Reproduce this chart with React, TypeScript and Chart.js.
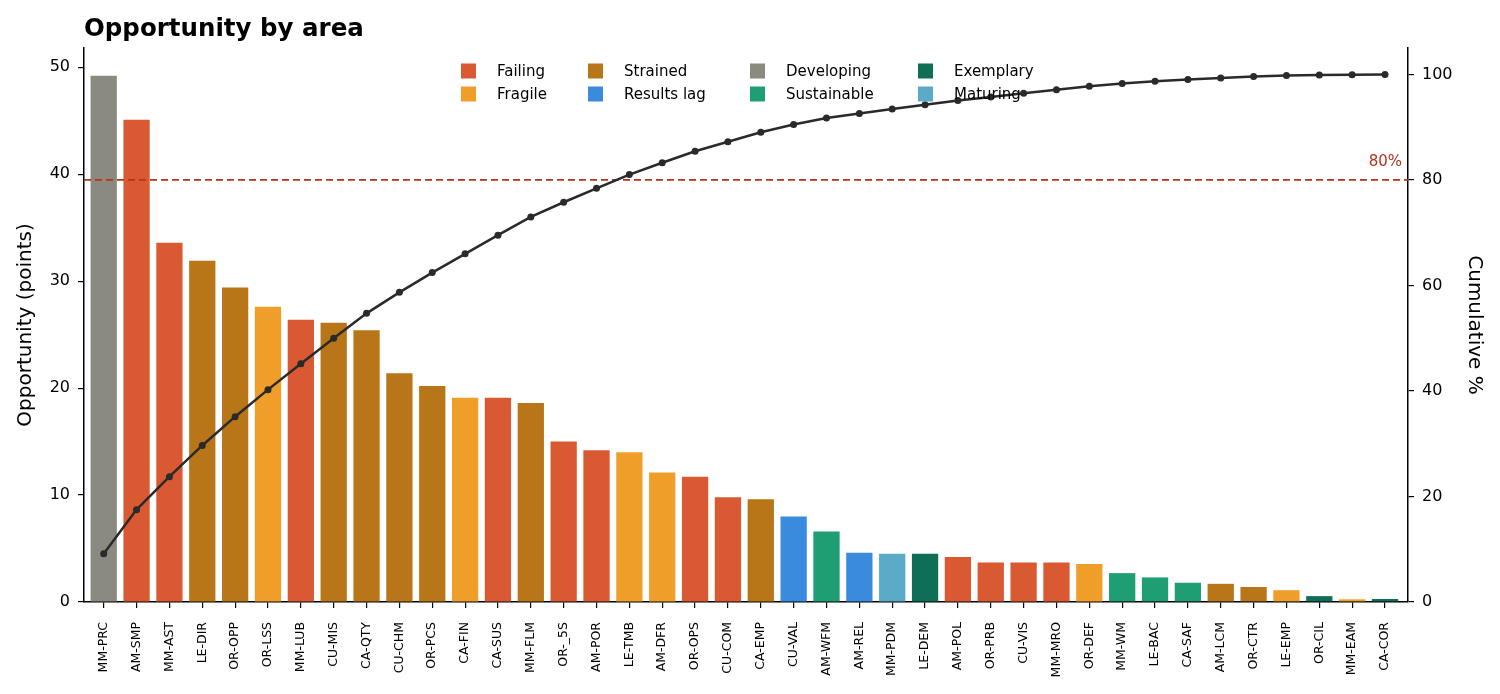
import React, { useEffect, useRef } from "react";
import { Chart, registerables } from "chart.js";

Chart.register(...registerables);

const categories = [
  "MM-PRC", "AM-SMP", "MM-AST", "LE-DIR", "OR-OPP", "OR-LSS", "MM-LUB", "CU-MIS", "CA-QTY", "CU-CHM",
  "OR-PCS", "CA-FIN", "CA-SUS", "MM-FLM", "OR-_5S", "AM-POR", "LE-TMB", "AM-DFR", "OR-OPS", "CU-COM",
  "CA-EMP", "CU-VAL", "AM-WFM", "AM-REL", "MM-PDM", "LE-DEM", "AM-POL", "OR-PRB", "CU-VIS", "MM-MRO",
  "OR-DEF", "MM-WM", "LE-BAC", "CA-SAF", "AM-LCM", "OR-CTR", "LE-EMP", "OR-CIL", "MM-EAM", "CA-COR",
];

const opportunity = [
  49.2, 45.1, 33.6, 31.9, 29.4, 27.6, 26.4, 26.1, 25.4, 21.4,
  20.2, 19.1, 19.1, 18.6, 15.0, 14.2, 14.0, 12.1, 11.7, 9.8,
  9.6, 8.0, 6.6, 4.6, 4.5, 4.5, 4.2, 3.7, 3.7, 3.7,
  3.55, 2.7, 2.3, 1.8, 1.7, 1.4, 1.1, 0.55, 0.25, 0.28,
];

const status = [
  "Developing", "Failing", "Failing", "Strained", "Strained", "Fragile", "Failing", "Strained", "Strained", "Strained",
  "Strained", "Fragile", "Failing", "Strained", "Failing", "Failing", "Fragile", "Fragile", "Failing", "Failing",
  "Strained", "Results lag", "Sustainable", "Results lag", "Maturing", "Exemplary", "Failing", "Failing", "Failing", "Failing",
  "Fragile", "Sustainable", "Sustainable", "Sustainable", "Strained", "Strained", "Fragile", "Exemplary", "Fragile", "Exemplary",
];

const legendOrder = ["Failing", "Fragile", "Strained", "Results lag", "Developing", "Sustainable", "Exemplary", "Maturing"];

const statusColors: Record<string, string> = {
  Failing: "#d95a32",
  Fragile: "#f09e2a",
  Strained: "#b87618",
  "Results lag": "#3a8ade",
  Developing: "#8a8a80",
  Sustainable: "#1f9e74",
  Exemplary: "#0f6e56",
  Maturing: "#5aaac8",
};

const leftTicks = [0, 10, 20, 30, 40, 50];
const rightTicks = [0, 20, 40, 60, 80, 100];
const threshold = 80;

const FONT = "'DejaVu Sans', sans-serif";

export default function App() {
  const ref = useRef<HTMLCanvasElement | null>(null);

  useEffect(() => {
    if (!ref.current) return;
    const total = opportunity.reduce((a, b) => a + b, 0);
    let run = 0;
    const cumulative = opportunity.map((v) => {
      run += v;
      return (run / total) * 100;
    });

    const overlay = {
      id: "overlay",
      afterDatasetDraw(chart: any, args: any) {
        if (args.index !== 1) return;
        const { ctx, chartArea } = chart;
        const y = chart.scales.y1.getPixelForValue(threshold);
        ctx.save();
        ctx.strokeStyle = "#b8321c";
        ctx.lineWidth = 1.6;
        ctx.setLineDash([7, 4]);
        ctx.beginPath();
        ctx.moveTo(chartArea.left, y);
        ctx.lineTo(chartArea.right, y);
        ctx.stroke();
        ctx.setLineDash([]);
        ctx.fillStyle = "#b8321c";
        ctx.font = `15px ${FONT}`;
        ctx.textAlign = "right";
        ctx.textBaseline = "alphabetic";
        ctx.fillText(`${threshold}%`, chartArea.right - 6, y - 14);
        ctx.restore();
      },
      afterDraw(chart: any) {
        const { ctx, chartArea } = chart;
        ctx.save();
        ctx.fillStyle = "#000";
        ctx.font = `bold 24.5px ${FONT}`;
        ctx.textAlign = "left";
        ctx.textBaseline = "alphabetic";
        ctx.fillText("Opportunity by area", chartArea.left, 36);
        const colX = [377, 504, 666, 834];
        const rowY = [71, 94];
        ctx.font = `15px ${FONT}`;
        ctx.textBaseline = "middle";
        legendOrder.forEach((name, i) => {
          const c = Math.floor(i / 2);
          const r = i % 2;
          const x = chartArea.left + colX[c];
          const y = rowY[r];
          ctx.fillStyle = statusColors[name];
          ctx.fillRect(x, y - 7.5, 15, 15);
          ctx.fillStyle = "#000";
          ctx.fillText(name, x + 36, y + 1);
        });
        ctx.restore();
      },
    };

    const chart = new Chart(ref.current, {
      type: "bar",
      data: {
        datasets: [
          {
            type: "line",
            label: "Cumulative %",
            data: cumulative.map((v, i) => ({ x: i, y: v })),
            yAxisID: "y1",
            borderColor: "#2a2a2a",
            backgroundColor: "#2a2a2a",
            borderWidth: 2.5,
            pointRadius: 3.5,
            pointBackgroundColor: "#2a2a2a",
            pointBorderWidth: 0,
            tension: 0,
            order: 0,
          } as any,
          {
            type: "bar",
            label: "Opportunity",
            data: opportunity.map((v, i) => ({ x: i, y: v })),
            yAxisID: "y",
            backgroundColor: status.map((s) => statusColors[s]),
            borderWidth: 0,
            barPercentage: 0.8,
            categoryPercentage: 1.0,
            order: 1,
          } as any,
        ],
      },
      options: {
        animation: false,
        responsive: true,
        maintainAspectRatio: false,
        devicePixelRatio: 1,
        layout: { padding: { top: 48, left: 0, right: 0, bottom: 0 } },
        plugins: {
          legend: { display: false },
          tooltip: { enabled: false },
          title: { display: false },
        },
        scales: {
          x: {
            type: "linear",
            min: -0.6,
            max: categories.length - 0.3,
            offset: false,
            afterBuildTicks(scale: any) {
              scale.ticks = categories.map((_, i) => ({ value: i }));
            },
            grid: {
              offset: false,
              drawOnChartArea: false,
              drawTicks: true,
              tickLength: 6,
              color: "#000",
              lineWidth: 1.2,
            },
            border: { display: true, color: "#000", width: 1.5 },
            ticks: {
              color: "#000",
              font: { family: FONT, size: 12.5 },
              minRotation: 90,
              maxRotation: 90,
              autoSkip: false,
              padding: 14,
              callback: (v: any) => categories[Math.round(Number(v))] ?? "",
            },
            afterFit(scale: any) {
              scale.height = 92;
            },
          },
          y: {
            position: "left",
            min: 0,
            max: 51.8,
            afterBuildTicks(scale: any) {
              scale.ticks = leftTicks.map((v) => ({ value: v }));
            },
            grid: {
              drawOnChartArea: false,
              drawTicks: true,
              tickLength: 6,
              color: "#000",
              lineWidth: 1.2,
            },
            border: { display: true, color: "#000", width: 1.5 },
            ticks: {
              color: "#000",
              font: { family: FONT, size: 16 },
              padding: 8,
            },
            title: {
              display: true,
              text: "Opportunity (points)",
              color: "#000",
              font: { family: FONT, size: 20 },
              padding: { top: 14, bottom: 4 },
            },
            afterFit(scale: any) {
              scale.width = 84;
            },
          },
          y1: {
            position: "right",
            min: 0,
            max: 105,
            afterBuildTicks(scale: any) {
              scale.ticks = rightTicks.map((v) => ({ value: v }));
            },
            grid: {
              drawOnChartArea: false,
              drawTicks: true,
              tickLength: 6,
              color: "#000",
              lineWidth: 1.2,
            },
            border: { display: true, color: "#000", width: 1.5 },
            ticks: {
              color: "#000",
              font: { family: FONT, size: 16 },
              padding: 8,
            },
            title: {
              display: true,
              text: "Cumulative %",
              color: "#000",
              font: { family: FONT, size: 20 },
              padding: { top: 14, bottom: 4 },
            },
            afterFit(scale: any) {
              scale.width = 92;
            },
          },
        },
      },
      plugins: [overlay],
    });

    return () => chart.destroy();
  }, []);

  return (
    <div style={{ position: "absolute", left: 0, top: 0, width: 1500, height: 694, background: "#fff" }}>
      <canvas ref={ref} />
    </div>
  );
}
